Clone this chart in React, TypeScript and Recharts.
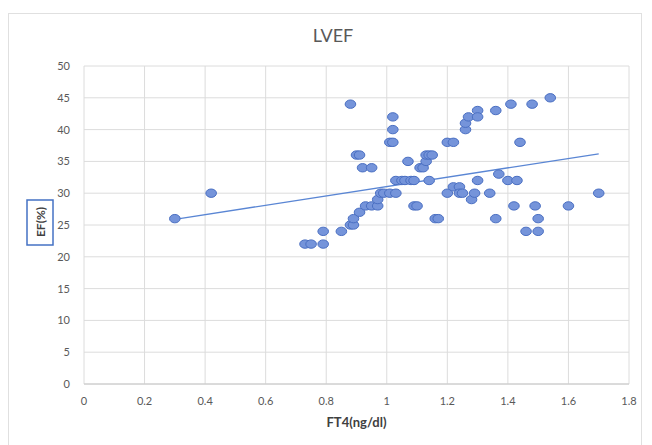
import React from "react";
import { ScatterChart, Scatter, XAxis, YAxis, CartesianGrid, Label } from "recharts";

const ft4Values: number[] = [
  0.30, 0.42,
  0.73, 0.75, 0.79, 0.79,
  0.85, 0.88, 0.89, 0.89, 0.91, 0.93, 0.95, 0.97, 0.97,
  0.98, 0.99, 1.01, 1.03,
  0.88, 0.90, 0.91, 0.92, 0.95,
  1.01, 1.02, 1.02, 1.02,
  1.03, 1.05, 1.06, 1.08, 1.09, 1.07,
  1.09, 1.10,
  1.11, 1.12, 1.13, 1.13, 1.14, 1.15, 1.14,
  1.16, 1.17,
  1.20, 1.22, 1.20, 1.22, 1.24, 1.24, 1.25, 1.28, 1.29, 1.30,
  1.26, 1.26, 1.27, 1.30, 1.30, 1.36,
  1.34, 1.37, 1.36,
  1.41, 1.48, 1.54, 1.44, 1.40, 1.43,
  1.42, 1.49, 1.60, 1.50, 1.46, 1.50, 1.70,
];

const efValues: number[] = [
  26, 30,
  22, 22, 22, 24,
  24, 25, 25, 26, 27, 28, 28, 28, 29,
  30, 30, 30, 30,
  44, 36, 36, 34, 34,
  38, 38, 40, 42,
  32, 32, 32, 32, 32, 35,
  28, 28,
  34, 34, 35, 36, 36, 36, 32,
  26, 26,
  38, 38, 30, 31, 31, 30, 30, 29, 30, 32,
  40, 41, 42, 43, 42, 43,
  30, 33, 26,
  44, 44, 45, 38, 32, 32,
  28, 28, 28, 26, 24, 24, 30,
];

const trendX: number[] = [0.3, 1.7];
const trendY: number[] = [25.9, 36.2];

const xTicks: number[] = [0, 0.2, 0.4, 0.6, 0.8, 1, 1.2, 1.4, 1.6, 1.8];
const yTicks: number[] = [0, 5, 10, 15, 20, 25, 30, 35, 40, 45, 50];

const points = ft4Values.map((x, i) => ({ x, y: efValues[i] }));
const trend = trendX.map((x, i) => ({ x, y: trendY[i] }));

const FONT = "Lato, 'Open Sans', sans-serif";
const GRAY = "#595959";

const Dot = (props: any) => {
  const { cx, cy } = props;
  if (cx == null || cy == null) return <g />;
  return (
    <ellipse cx={cx} cy={cy} rx={5.3} ry={4.2} fill="#7594da" stroke="#4a6fc2" strokeWidth={1} />
  );
};

const NoShape = () => <g />;

const YTitle = (props: any) => {
  const vb = props.viewBox || {};
  const cx = 40;
  const cy = vb.y + vb.height / 2 - 3;
  return (
    <g>
      <rect x={cx - 13} y={cy - 22} width={26} height={45} fill="none" stroke="#4472c4" strokeWidth={1.5} />
      <text
        x={cx}
        y={cy}
        transform={`rotate(-90 ${cx} ${cy})`}
        textAnchor="middle"
        dominantBaseline="central"
        fontFamily={FONT}
        fontWeight="bold"
        fontSize={12}
        fill="#404040"
      >
        EF(%)
      </text>
    </g>
  );
};

export default function App() {
  return (
    <div style={{ position: "absolute", left: 0, top: 0, width: 652, height: 445, background: "#fff", fontFamily: FONT }}>
      <div
        style={{
          position: "absolute",
          left: 8,
          top: 13,
          width: 634,
          height: 440,
          border: "1px solid #e0e0e0",
          boxSizing: "border-box",
        }}
      />
      <div
        style={{
          position: "absolute",
          left: 0,
          width: 652,
          top: 24,
          textAlign: "center",
          fontSize: 18,
          color: GRAY,
          paddingLeft: 14,
          boxSizing: "border-box",
        }}
      >
        LVEF
      </div>
      <div style={{ position: "absolute", left: 0, top: 0 }}>
        <ScatterChart width={652} height={445} margin={{ top: 66, right: 23, bottom: 31, left: 34 }}>
          <CartesianGrid stroke="#dcdcdc" vertical={true} horizontal={true} />
          <XAxis
            type="number"
            dataKey="x"
            domain={[0, 1.8]}
            ticks={xTicks}
            interval={0}
            height={30}
            axisLine={{ stroke: "#c8c8c8" }}
            tickLine={false}
            tickSize={0}
            tickMargin={13}
            tick={{ fill: GRAY, fontSize: 11, fontFamily: FONT }}
            allowDataOverflow
          >
            <Label
              value="FT4(ng/dl)"
              position="insideBottom"
              offset={-13}
              style={{ fill: "#404040", fontWeight: "bold", fontSize: 13, fontFamily: FONT }}
            />
          </XAxis>
          <YAxis
            type="number"
            dataKey="y"
            domain={[0, 50]}
            ticks={yTicks}
            interval={0}
            width={50}
            axisLine={false}
            tickLine={false}
            tickSize={0}
            tickMargin={14}
            tick={{ fill: GRAY, fontSize: 11, fontFamily: FONT }}
            allowDataOverflow
          >
            <Label content={YTitle} />
          </YAxis>
          <Scatter data={trend} line={{ stroke: "#5a86d4", strokeWidth: 1.3 }} shape={NoShape} isAnimationActive={false} />
          <Scatter data={points} shape={Dot} isAnimationActive={false} />
        </ScatterChart>
      </div>
    </div>
  );
}
